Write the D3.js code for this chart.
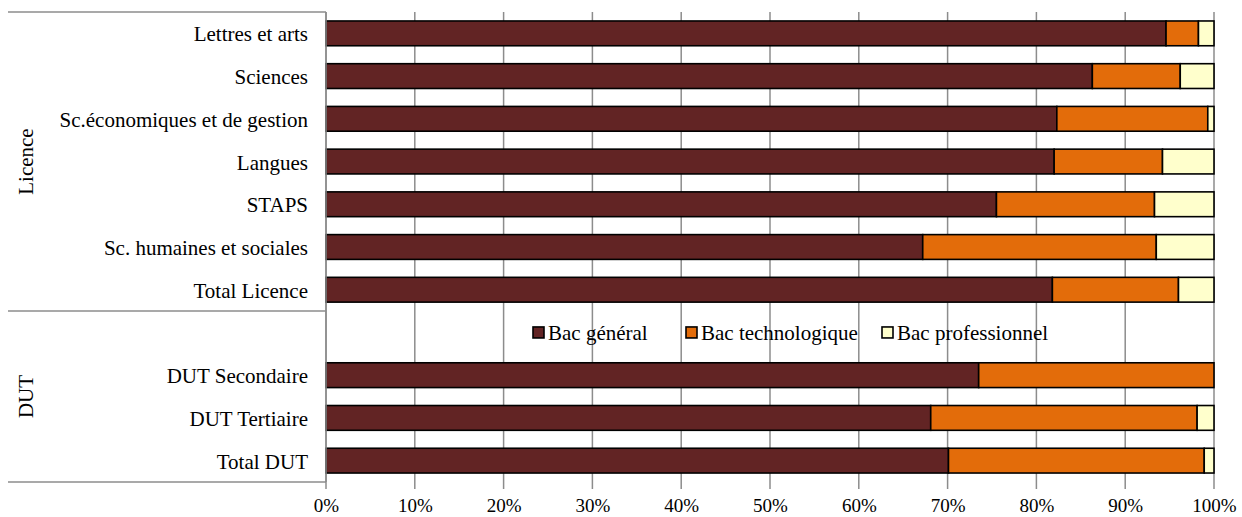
<!DOCTYPE html>
<html>
<head>
<meta charset="utf-8">
<script src="https://cdn.jsdelivr.net/npm/d3@7"></script>
<style>
  body { margin: 0; background: #fff; }
  svg { display: block; font-family: "Liberation Serif", "Times New Roman", serif; }
</style>
</head>
<body>
<svg id="chart" width="1242" height="517"></svg>
<script>
// ---- data ----
const categories = ["Lettres et arts", "Sciences", "Sc.économiques et de gestion", "Langues", "STAPS",
  "Sc. humaines et sociales", "Total Licence", "DUT Secondaire", "DUT Tertiaire", "Total DUT"];
const groups = ["Licence", "Licence", "Licence", "Licence", "Licence", "Licence", "Licence", "DUT", "DUT", "DUT"];
const seriesNames = ["Bac général", "Bac technologique", "Bac professionnel"];
const bacGeneral = [94.6, 86.3, 82.3, 82.0, 75.5, 67.2, 81.8, 73.5, 68.1, 70.1];
const bacTechno  = [3.65, 9.9, 17.0, 12.2, 17.8, 26.3, 14.2, 26.5, 30.0, 28.8];
const bacPro     = [1.75, 3.8, 0.7, 5.8, 6.7, 6.5, 4.0, 0.0, 1.9, 1.1];
const tickValues = [0, 10, 20, 30, 40, 50, 60, 70, 80, 90, 100];
const colors = ["#622424", "#E36C0A", "#FFFFCC"];

(function () {
// ---- layout ----
const svg = d3.select("#chart");
const mLeft = 326, mRight = 1214, mTop = 12, mBottom = 482;
const spacerKey = "__legend__";
const rowKeys = categories.slice(0, 7).concat([spacerKey], categories.slice(7));

const x = d3.scaleLinear().domain([0, 100]).range([mLeft, mRight]);
const y = d3.scaleBand().domain(rowKeys).range([mTop, mBottom]).paddingInner(0.42).paddingOuter(0.21);

// gridlines (extending slightly below as tick marks)
svg.append("g").selectAll("line").data(tickValues).join("line")
  .attr("x1", d => x(d)).attr("x2", d => x(d))
  .attr("y1", mTop).attr("y2", mBottom + 7)
  .attr("stroke", "#8c8c8c").attr("stroke-width", 1.5);

// x axis labels
const xAxis = d3.axisBottom(x).tickValues(tickValues).tickFormat(d => d + "%").tickSize(0).tickPadding(0);
const gx = svg.append("g").attr("transform", `translate(0,${mBottom + 16})`).call(xAxis);
gx.select(".domain").remove();
gx.selectAll("text").attr("font-size", 19).attr("font-family", "Liberation Serif").attr("fill", "#000");

// stacked data
const rows = categories.map((c, i) => ({ cat: c, vals: [bacGeneral[i], bacTechno[i], bacPro[i]] }));
const stack = d3.stack().keys([0, 1, 2]).value((d, k) => d.vals[k]);
const stacked = stack(rows);

svg.append("g").selectAll("g").data(stacked).join("g")
  .attr("fill", (d, i) => colors[i])
  .selectAll("rect").data(d => d.filter(s => s[1] - s[0] > 0)).join("rect")
  .attr("x", d => x(d[0]))
  .attr("width", d => x(d[1]) - x(d[0]))
  .attr("y", d => y(d.data.cat))
  .attr("height", y.bandwidth())
  .attr("stroke", "#000").attr("stroke-width", 1.6);

// left axis line
svg.append("line").attr("x1", mLeft).attr("x2", mLeft).attr("y1", mTop).attr("y2", mBottom)
  .attr("stroke", "#8c8c8c").attr("stroke-width", 1.5);

// category labels
const yAxis = d3.axisLeft(y).tickValues(categories).tickSize(0).tickPadding(18);
const gy = svg.append("g").attr("transform", `translate(${mLeft},0)`).call(yAxis);
gy.select(".domain").remove();
gy.selectAll("text").attr("font-size", 21).attr("font-family", "Liberation Serif")
  .attr("fill", "#000").attr("dy", "0.38em");

// group frame lines
const sepY = y.step() * 7 + mTop;
[mTop, sepY, mBottom].forEach(yy => {
  svg.append("line").attr("x1", 8).attr("x2", mLeft).attr("y1", yy).attr("y2", yy)
    .attr("stroke", "#8c8c8c").attr("stroke-width", 1.5);
});

// group labels
const groupNames = Array.from(new Set(groups));
const groupSpans = { "Licence": [mTop, sepY], "DUT": [sepY, mBottom] };
groupNames.forEach(g => {
  const [a, b] = groupSpans[g];
  svg.append("text")
    .attr("transform", `translate(33,${(a + b) / 2}) rotate(-90)`)
    .attr("text-anchor", "middle")
    .attr("font-size", 21)
    .text(g);
});

// legend in the spacer row
const ly = y(spacerKey) + y.bandwidth() / 2;
const legendX = [533, 686, 882];
const lg = svg.append("g").selectAll("g").data(seriesNames).join("g")
  .attr("transform", (d, i) => `translate(${legendX[i]},${ly})`);
lg.append("rect").attr("x", 0).attr("y", -5.5).attr("width", 11).attr("height", 11)
  .attr("fill", (d, i) => colors[i]).attr("stroke", "#000").attr("stroke-width", 1.6);
lg.append("text").attr("x", 15).attr("y", 0).attr("dy", "0.36em")
  .attr("font-size", 21).text(d => d);
})();
</script>
</body>
</html>
